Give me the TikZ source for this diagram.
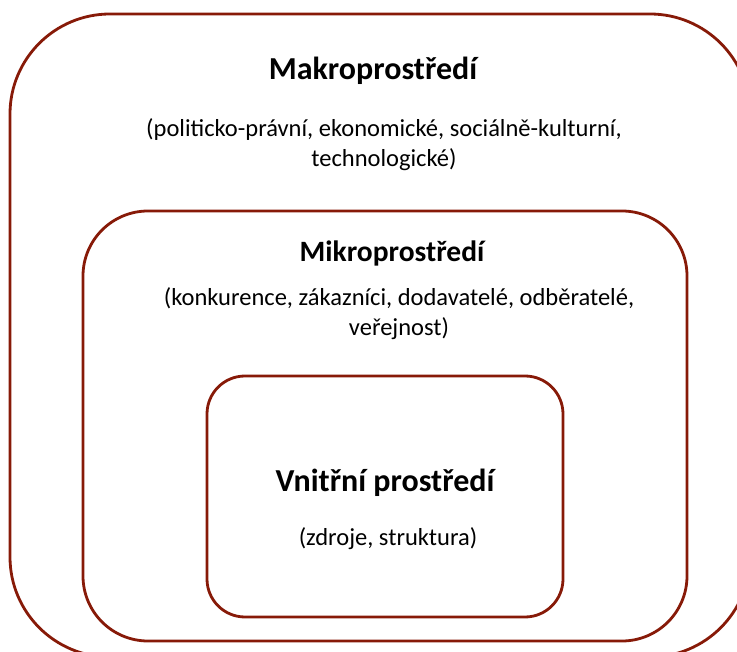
\documentclass[tikz,border=0pt]{standalone}
\usepackage{fontspec}
\setmainfont{Carlito}
\definecolor{frame}{HTML}{871A08}
\tikzset{
  envbox/.style={draw=frame, line width=2.8pt, rectangle, inner sep=0pt},
  title/.style={font=\bfseries\fontsize{#1}{#1}\selectfont, anchor=base, inner sep=0pt},
  body/.style={font=\fontsize{24.5}{30}\selectfont, align=center, anchor=base, inner sep=0pt},
}
\begin{document}
\begin{tikzpicture}[x=1pt, y=-1pt]
\useasboundingbox (0,0) rectangle (737,652);
\clip (0,0) rectangle (737,652);
\node[envbox, rounded corners=100pt, minimum width=740pt, minimum height=643pt] (makro) at (380,335.5) {};
\node[envbox, rounded corners=65pt, minimum width=604pt, minimum height=430pt] (mikro) at (385,426) {};
\node[envbox, rounded corners=38pt, minimum width=356pt, minimum height=241pt] (vnitrni) at (385,496.5) {};
\node[title=32] (makrot) at (373,80) {Makroprostředí};
\node[body] (makrob) at (384,167) {(politicko-právní, ekonomické, sociálně-kulturní,\\technologické)};
\node[title=29.5] (mikrot) at (392,262) {Mikroprostředí};
\node[body] (mikrob) at (399,336) {(konkurence, zákazníci, dodavatelé, odběratelé,\\veřejnost)};
\node[title=32] (vnitrnit) at (385,491) {Vnitřní prostředí};
\node[body] (vnitrnib) at (388,545) {(zdroje, struktura)};
\end{tikzpicture}
\end{document}
